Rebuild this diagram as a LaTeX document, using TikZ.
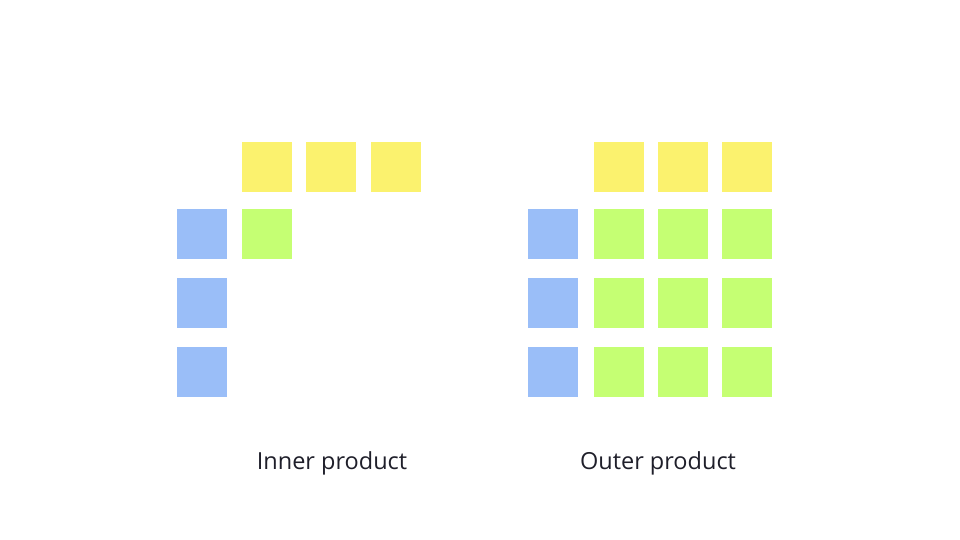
\documentclass[tikz,border=0pt]{standalone}
\usepackage{fontspec}
\setmainfont{Open Sans}
\definecolor{cyel}{HTML}{FBF26E}
\definecolor{cblu}{HTML}{9ABEF8}
\definecolor{cgrn}{HTML}{C5FF73}
\definecolor{ctxt}{HTML}{1F1F2A}
\begin{document}
\begin{tikzpicture}[x=1pt,y=-1pt,
  cell/.style={rectangle, minimum size=50pt, inner sep=0pt},
  lbl/.style={font=\fontsize{23.5}{28}\selectfont, text=ctxt}]
\useasboundingbox (0,0) rectangle (960,540);
% inner product
\node[cell, fill=cyel] (iy0) at (267,167){};
\node[cell, fill=cyel] (iy1) at (331,167){};
\node[cell, fill=cyel] (iy2) at (396,167){};
\node[cell, fill=cblu] (ib0) at (202,234){};
\node[cell, fill=cblu] (ib1) at (202,303){};
\node[cell, fill=cblu] (ib2) at (202,372){};
\node[cell, fill=cgrn] (ig0) at (267,234){};
\node[lbl] (ilbl) at (332,463){Inner product};
% outer product
\node[cell, fill=cyel] (oy0) at (619,167){};
\node[cell, fill=cyel] (oy1) at (683,167){};
\node[cell, fill=cyel] (oy2) at (747,167){};
\foreach \r/\y in {0/234,1/303,2/372}{
  \node[cell, fill=cblu] (ob\r) at (553,\y){};
  \foreach \c/\x in {0/619,1/683,2/747}
    \node[cell, fill=cgrn] (og\r\c) at (\x,\y){};
}
\node[lbl] (olbl) at (658,463){Outer product};
\end{tikzpicture}
\end{document}
